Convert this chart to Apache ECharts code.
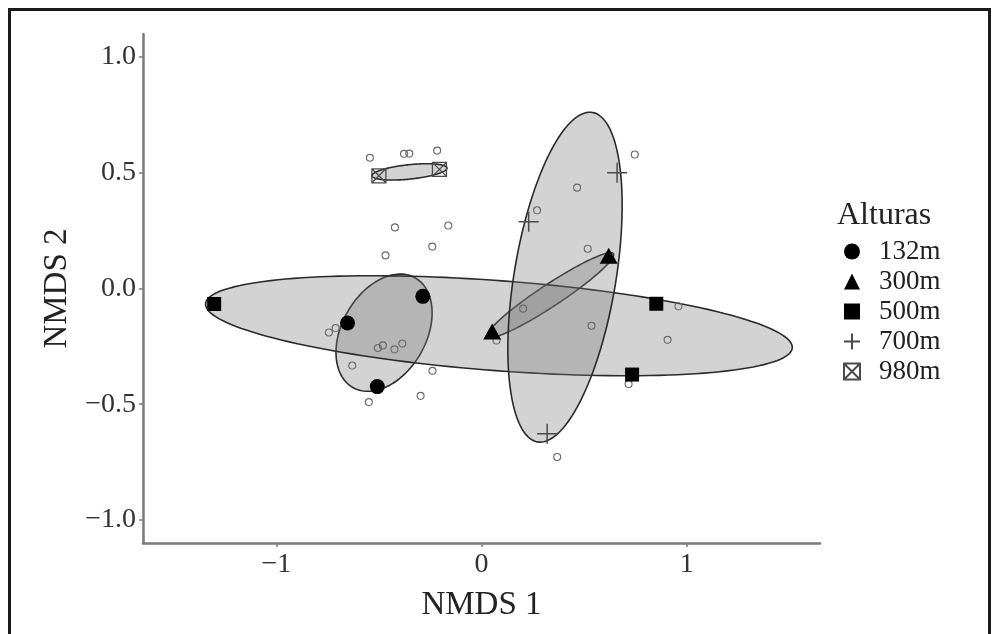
<!DOCTYPE html>
<html>
<head>
<meta charset="utf-8">
<script src="https://cdn.jsdelivr.net/npm/echarts@6/dist/echarts.min.js"></script>
<style>
  html, body { margin: 0; padding: 0; background: #fff; }
  #chart { width: 993px; height: 634px; }
</style>
</head>
<body>
<div id="chart"></div>
<script>
// ---- data ----
const xTicks = [-1, 0, 1];
const yTicks = [-1, -0.5, 0, 0.5, 1];
const altitudes = ['132m', '300m', '500m', '700m', '980m'];

const pts132 = [[-0.286, -0.034], [-0.653, -0.149], [-0.508, -0.424]];
const pts300 = [[0.052, -0.186], [0.620, 0.142]];
const pts500 = [[-1.303, -0.067], [0.852, -0.066], [0.734, -0.372]];
const pts700 = [[0.661, 0.500], [0.230, 0.289], [0.320, -0.628]];
const pts980 = [[-0.500, 0.487], [-0.205, 0.515]];

const sites = [
  [-0.544, 0.565], [-0.378, 0.582], [-0.352, 0.583], [-0.216, 0.596],
  [-0.422, 0.264], [-0.162, 0.272], [-0.240, 0.181], [-0.468, 0.143],
  [0.747, 0.579], [0.466, 0.436], [0.271, 0.338], [0.518, 0.172],
  [0.203, -0.087], [0.960, -0.077], [-0.744, -0.190], [-0.711, -0.171],
  [-0.505, -0.257], [-0.481, -0.246], [-0.424, -0.263], [-0.386, -0.238],
  [-0.630, -0.333], [-0.239, -0.356], [-0.297, -0.464], [-0.549, -0.491],
  [0.073, -0.225], [0.536, -0.161], [0.907, -0.222], [0.717, -0.413],
  [0.369, -0.728]
];

// ellipses (one per altitude): centre and two conjugate semi-axis vectors, in data units
const ellipseCenter = [[-0.475, -0.191], [0.336, -0.029], [0.085, -0.161], [0.407, 0.049], [-0.351, 0.504]];
const ellipseAxisA  = [[0.1525, 0.2366], [0.307, 0.1795], [1.430, -0.0955], [0.1335, 0.712], [0.1827, 0.0169]];
const ellipseAxisB  = [[0.1778, -0.0904], [0.0295, -0.0397], [0.0164, 0.194], [0.2445, -0.0363], [0.0036, -0.031]];

// ---- chart ----
const FONT = "'Liberation Serif', 'DejaVu Serif', serif";
const PLUS = 'path://M0,5L10,5M5,0L5,10';
const BOXX = 'path://M0,0L10,0L10,10L0,10ZM0,0L10,10M10,0L0,10';

const chart = echarts.init(document.getElementById('chart'), null, { renderer: 'canvas' });

function fmtY(v) {
  const s = Math.abs(v).toFixed(1);
  return v < 0 ? '\u2212' + s : s;
}
function fmtX(v) {
  const s = Math.abs(v).toFixed(0);
  return v < 0 ? '\u2212' + s : s;
}

const option = {
  animation: false,
  backgroundColor: '#ffffff',
  grid: { left: 143, right: 173, top: 34, bottom: 91, containLabel: false },
  title: {
    text: 'Alturas', left: 837, top: 200, padding: 0,
    textStyle: { fontFamily: FONT, fontSize: 32, fontWeight: 'normal', color: '#222' }
  },
  legend: {
    orient: 'vertical', left: 843, top: 238, padding: 0,
    itemWidth: 16, itemHeight: 16, itemGap: 3,
    textStyle: { fontFamily: FONT, fontSize: 27, color: '#222', lineHeight: 27, padding: [0, 0, 0, 14] },
    data: [
      { name: '132m', icon: 'circle' },
      { name: '300m', icon: 'triangle' },
      { name: '500m', icon: 'rect' },
      { name: '700m', icon: PLUS },
      { name: '980m', icon: BOXX }
    ]
  },
  xAxis: {
    type: 'value', min: -1.65, max: 1.65,
    name: 'NMDS 1', nameLocation: 'middle', nameGap: 46,
    nameTextStyle: { fontFamily: FONT, fontSize: 33, color: '#222' },
    splitLine: { show: false },
    axisLine: { show: true, onZero: false, lineStyle: { color: '#7a7a7a', width: 2.5 } },
    axisTick: { show: true, length: 4, lineStyle: { color: '#7a7a7a', width: 1.5 }, customValues: xTicks },
    axisLabel: { fontFamily: FONT, fontSize: 28, color: '#333', margin: 8, customValues: xTicks, formatter: fmtX }
  },
  yAxis: {
    type: 'value', min: -1.1, max: 1.1,
    name: 'NMDS 2', nameLocation: 'middle', nameGap: 66, nameRotate: 90,
    nameTextStyle: { fontFamily: FONT, fontSize: 33, color: '#222' },
    splitLine: { show: false },
    axisLine: { show: true, onZero: false, lineStyle: { color: '#7a7a7a', width: 2.5 } },
    axisTick: { show: true, length: 4, lineStyle: { color: '#7a7a7a', width: 1.5 }, customValues: yTicks },
    axisLabel: { fontFamily: FONT, fontSize: 28, color: '#333', margin: 7, customValues: yTicks, formatter: fmtY }
  },
  graphic: [{
    type: 'rect', left: 7, top: 7, z: 100, silent: true,
    shape: { width: 980, height: 650 },
    style: { fill: 'none', stroke: '#1a1a1a', lineWidth: 3 }
  }],
  series: [
    {
      type: 'custom', name: 'elipses', z: 1,
      data: ellipseCenter.map(c => [c[0], c[1]]),
      encode: { x: 0, y: 1 },
      renderItem: function (params, api) {
        const i = params.dataIndex;
        const c = ellipseCenter[i], A = ellipseAxisA[i], B = ellipseAxisB[i];
        const pts = [];
        const N = 160;
        for (let k = 0; k <= N; k++) {
          const t = 2 * Math.PI * k / N;
          const ct = Math.cos(t), st = Math.sin(t);
          pts.push(api.coord([c[0] + A[0] * ct + B[0] * st, c[1] + A[1] * ct + B[1] * st]));
        }
        return {
          type: 'polygon', shape: { points: pts },
          style: { fill: 'rgba(120,120,120,0.33)', stroke: '#2a2a2a', lineWidth: 1.6 }
        };
      }
    },
    {
      type: 'scatter', name: 'sitios', z: 3, symbol: 'circle', symbolSize: 7,
      itemStyle: { color: 'transparent', borderColor: '#6a6a6a', borderWidth: 1.1, opacity: 1 },
      data: sites
    },
    {
      type: 'scatter', name: '132m', z: 4, symbol: 'circle', symbolSize: 15,
      itemStyle: { color: '#000', opacity: 1 }, data: pts132
    },
    {
      type: 'scatter', name: '300m', z: 4, symbol: 'triangle', symbolSize: [18, 16],
      itemStyle: { color: '#000', opacity: 1 }, data: pts300
    },
    {
      type: 'scatter', name: '500m', z: 4, symbol: 'rect', symbolSize: 14,
      itemStyle: { color: '#000', opacity: 1 }, data: pts500
    },
    {
      type: 'scatter', name: '700m', z: 4, symbol: PLUS, symbolSize: 20,
      itemStyle: { color: 'transparent', borderColor: '#4a4a4a', borderWidth: 1.5, opacity: 1 }, data: pts700
    },
    {
      type: 'scatter', name: '980m', z: 4, symbol: BOXX, symbolSize: 14,
      itemStyle: { color: 'transparent', borderColor: '#4a4a4a', borderWidth: 1.3, opacity: 1 }, data: pts980
    }
  ]
};
chart.setOption(option);
</script>
</body>
</html>
